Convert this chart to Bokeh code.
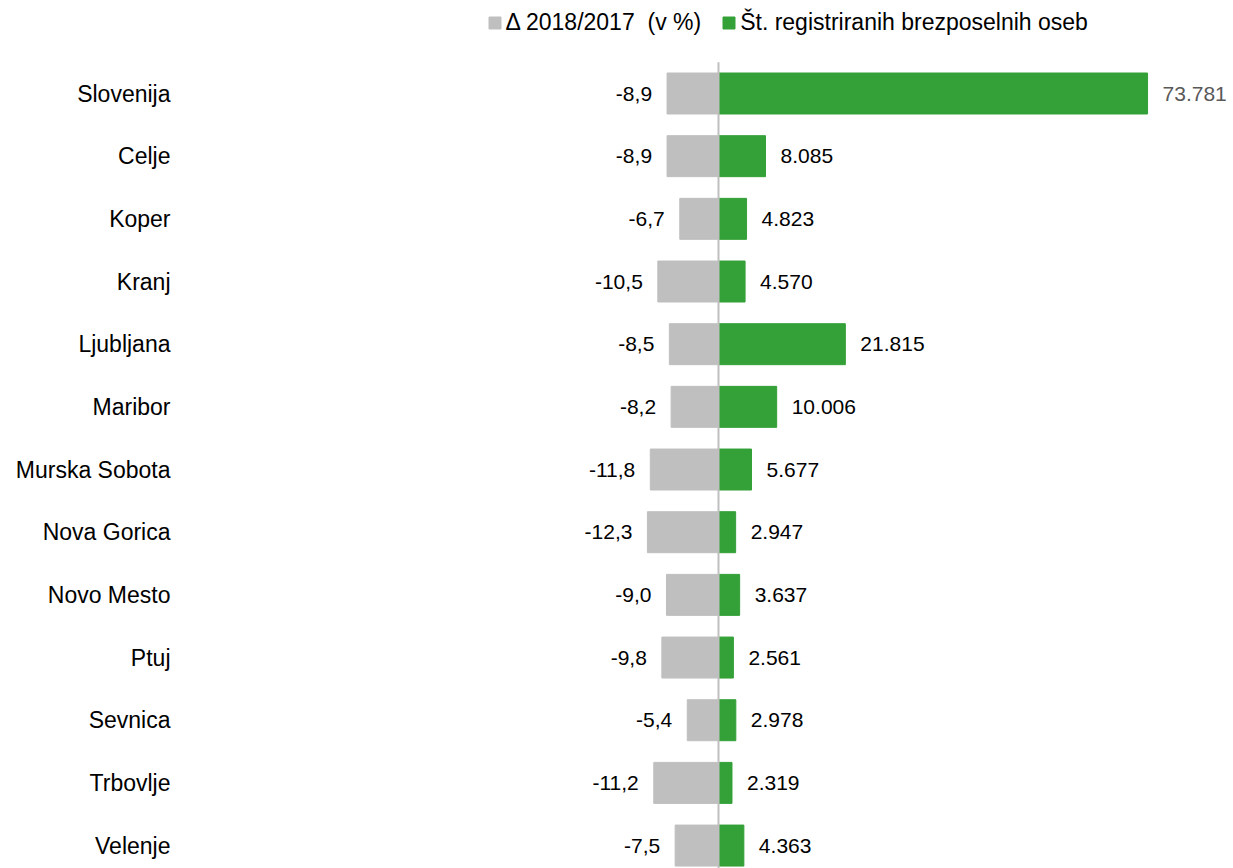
from bokeh.plotting import figure
from bokeh.models import Range1d, FixedTicker, Legend, LegendItem, ColumnDataSource
from bokeh.embed import file_html
from bokeh.resources import INLINE
from bokeh.core.properties import value

categories = ["Slovenija", "Celje", "Koper", "Kranj", "Ljubljana", "Maribor",
              "Murska Sobota", "Nova Gorica", "Novo Mesto", "Ptuj", "Sevnica",
              "Trbovlje", "Velenje"]
pct_change = [-8.9, -8.9, -6.7, -10.5, -8.5, -8.2, -11.8, -12.3, -9.0, -9.8, -5.4, -11.2, -7.5]
unemployed = [73781, 8085, 4823, 4570, 21815, 10006, 5677, 2947, 3637, 2561, 2978, 2319, 4363]

idx = list(range(len(categories)))


def fmt_pct(v):
    return f"{v:.1f}".replace(".", ",")


def fmt_int(v):
    return f"{v:,}".replace(",", ".")


src = ColumnDataSource(dict(
    y=idx,
    pct=pct_change,
    cnt=unemployed,
    pct_lbl=[fmt_pct(v) for v in pct_change],
    cnt_lbl=[fmt_int(v) for v in unemployed],
    cnt_col=["#595959" if c == "Slovenija" else "#000000" for c in categories],
))

FONT = "Liberation Sans"
GRAY = "#bfbfbf"
GREEN = "#34a038"

p = figure(width=1233, height=868, output_backend="svg", toolbar_location=None,
           x_range=Range1d(-92519, 88564), y_range=Range1d(12.366, -1.484),
           x_axis_location=None, min_border_left=180, min_border_right=0,
           min_border_top=0, min_border_bottom=0, outline_line_color=None)
p.extra_x_ranges = {"pct": Range1d(-93.08, 89.10)}
p.grid.visible = False

ax = p.yaxis[0]
ax.ticker = FixedTicker(ticks=idx)
ax.major_label_overrides = {i: c for i, c in zip(idx, categories)}
ax.axis_line_color = None
ax.major_tick_line_color = None
ax.minor_tick_line_color = None
ax.major_tick_out = 0
ax.major_tick_in = 0
ax.major_label_standoff = 10
ax.major_label_text_font = FONT
ax.major_label_text_font_size = "23px"
ax.major_label_text_color = "#000000"

gray = p.hbar(y="y", left=0, right="pct", height=0.654, fill_color=GRAY,
              line_color=GRAY, x_range_name="pct", source=src)
green = p.hbar(y="y", left=0, right="cnt", height=0.654, fill_color=GREEN,
               line_color=GREEN, source=src)

# zero line from the top of the first row down past the last row
p.segment(x0=0, y0=-0.5, x1=0, y1=len(categories), line_color=GRAY, line_width=2)

p.text(x="pct", y="y", text="pct_lbl", x_range_name="pct", x_offset=-15,
       text_align="right", text_baseline="middle", text_font=value(FONT),
       text_font_size="21px", text_color="#000000", source=src)
p.text(x="cnt", y="y", text="cnt_lbl", x_offset=15,
       text_align="left", text_baseline="middle", text_font=value(FONT),
       text_font_size="21px", text_color="cnt_col", source=src)

legend = Legend(items=[LegendItem(label="\u0394 2018/2017\u00a0 (v %)", renderers=[gray]),
                       LegendItem(label="\u0160t. registriranih brezposelnih oseb", renderers=[green])],
                orientation="horizontal", location=(306.5, 832.5),
                glyph_width=15, glyph_height=15, label_standoff=4, spacing=20,
                padding=0, margin=0, border_line_color=None, background_fill_alpha=0,
                label_text_font=FONT, label_text_font_size="23px", label_height=15,
                label_text_color="#000000")
p.add_layout(legend)

open("out.html", "w").write(file_html(p, INLINE))
